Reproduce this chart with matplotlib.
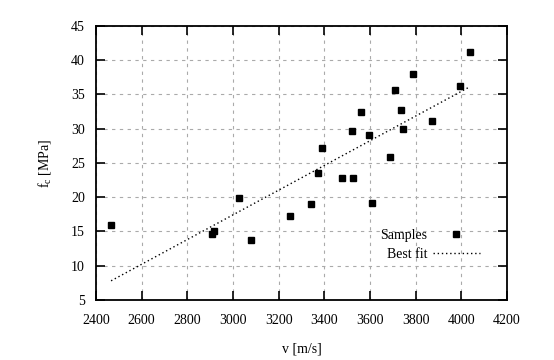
import matplotlib
matplotlib.use("Agg")
import matplotlib.pyplot as plt

plt.rcParams["font.family"] = "Liberation Serif"
plt.rcParams["mathtext.default"] = "regular"

# samples: ultrasonic velocity vs compressive strength
v = [2466, 2907, 2918, 3026, 3079, 3250, 3342, 3374, 3391, 3479, 3526,
     3520, 3559, 3596, 3607, 3686, 3711, 3735, 3744, 3787, 3873, 3993, 4040]
fc = [15.9, 14.6, 15.0, 19.9, 13.7, 17.3, 19.0, 23.5, 27.2, 22.8, 22.8,
      29.6, 32.5, 29.1, 19.1, 25.9, 35.6, 32.8, 30.0, 37.95, 31.2, 36.3, 41.2]

# best fit line endpoints
fit_v = [2466, 4036]
fit_fc = [7.8, 36.1]

xticks = [2400, 2600, 2800, 3000, 3200, 3400, 3600, 3800, 4000, 4200]
yticks = [5, 10, 15, 20, 25, 30, 35, 40, 45]

fig = plt.figure(figsize=(5.54, 3.6), dpi=100)
ax = fig.add_axes([0.1733, 0.1667, 0.7417, 0.7611])

ax.plot(v, fc, "s", color="black", ms=4, ls="none", label="Samples")
ax.plot(fit_v, fit_fc, ls=(0, (1, 2)), color="black", lw=1.0, label="Best fit")

ax.set_xlim(2400, 4200)
ax.set_ylim(5, 45)
ax.set_xticks(xticks)
ax.set_yticks(yticks)
ax.tick_params(direction="in", length=6.5, width=1.2, labelsize=10,
               top=True, right=True, pad=8)
ax.tick_params(axis="x", pad=10)
for s in ax.spines.values():
    s.set_linewidth(1.3)
ax.grid(True, ls=(0, (3, 4)), color="#aaaaaa", lw=0.8)

ax.set_xlabel("v [m/s]", fontsize=10, labelpad=11)
ax.set_ylabel("f$_c$ [MPa]", fontsize=10, labelpad=13)

ax.legend(loc="lower right", bbox_to_anchor=(0.965, 0.097), frameon=False,
          markerfirst=False, fontsize=10, handlelength=3.4, handletextpad=0.4,
          labelspacing=0.45, numpoints=1)

fig.savefig("out.png", dpi=100)
